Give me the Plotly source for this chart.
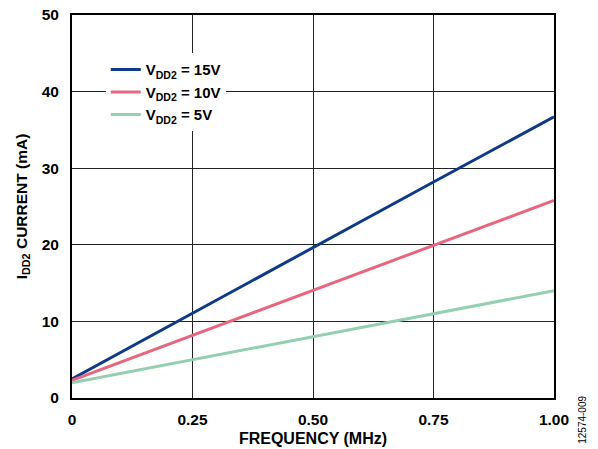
import plotly.graph_objects as go

freq = [0.0, 0.25, 0.5, 0.75, 1.0]
i_15v = [2.5, 11.1, 19.7, 28.2, 36.7]
i_10v = [2.3, 8.2, 14.1, 20.0, 25.8]
i_5v = [2.0, 5.0, 8.0, 11.0, 14.0]
names = ["V<sub>DD2</sub> = 15V", "V<sub>DD2</sub> = 10V", "V<sub>DD2</sub> = 5V"]
colors = ["#0f3a87", "#e8677e", "#94cfb0"]
xticks = [0, 0.25, 0.5, 0.75, 1.0]
xticklabels = ["0", "0.25", "0.50", "0.75", "1.00"]
yticks = [0, 10, 20, 30, 40, 50]

fig = go.Figure()
for ys, nm, c in zip([i_15v, i_10v, i_5v], names, colors):
    fig.add_trace(go.Scatter(x=freq, y=ys, mode="lines", name="<b>" + nm + "</b>",
                             line=dict(color=c, width=3)))

fam = "Liberation Sans, Arial, sans-serif"
fig.update_layout(
    width=598, height=449,
    margin=dict(l=72, r=44, t=15, b=51),
    plot_bgcolor="white", paper_bgcolor="white",
    font=dict(family=fam, size=15.5, color="black"),
    showlegend=True,
    legend=dict(x=0.07, y=0.9, xanchor="left", yanchor="top",
                bgcolor="white", borderwidth=0,
                font=dict(family=fam, size=15, color="black"),
                tracegroupgap=0, itemwidth=30),
)
fig.update_xaxes(range=[0, 1], tickvals=xticks, automargin=False,
                 ticktext=["<b>%s</b>" % t for t in xticklabels],
                 tickfont=dict(size=15.5), ticklabelstandoff=6,
                 showgrid=True, gridcolor="#222", gridwidth=1,
                 showline=True, linecolor="black", linewidth=2, mirror=True,
                 ticks="", zeroline=False,
                 title=dict(text="<b>FREQUENCY (MHz)</b>", font=dict(size=16), standoff=6))
fig.update_yaxes(range=[0, 50], tickvals=yticks, automargin=False,
                 ticktext=["<b>%d</b>" % v for v in yticks],
                 tickfont=dict(size=15.5), ticklabelstandoff=8,
                 showgrid=True, gridcolor="#222", gridwidth=1,
                 showline=True, linecolor="black", linewidth=2, mirror=True,
                 ticks="", zeroline=False,
                 title=dict(text="<b>I<sub>DD2</sub> CURRENT (mA)</b>", font=dict(size=15.5), standoff=10))
fig.add_annotation(text="12574-009", xref="paper", yref="paper", x=1.06, y=-0.125,
                   xanchor="center", yanchor="bottom", textangle=-90, showarrow=False,
                   font=dict(size=10, color="black"))
fig.write_html("out.html")
